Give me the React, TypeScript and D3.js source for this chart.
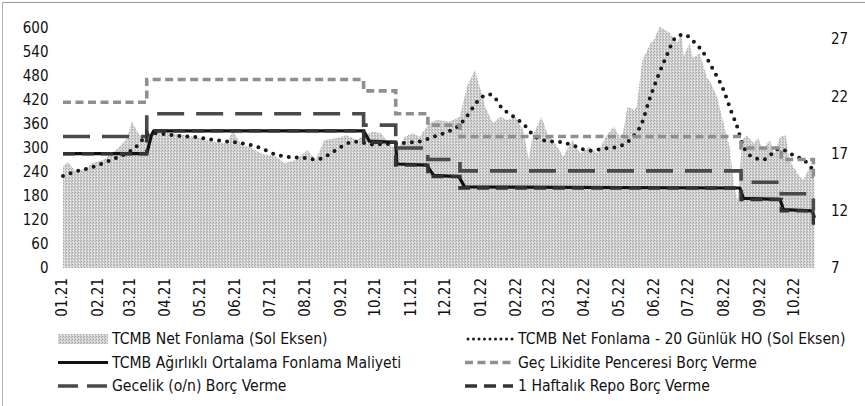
import React from "react";
import * as d3 from "d3";

// ---------- DATA ----------
// TCMB Net Fonlama (left axis, billion TL)
const netFunding: [string, number][] = [
  ["2021-01-04", 253], ["2021-01-08", 265], ["2021-01-15", 241], ["2021-01-25", 250],
  ["2021-01-29", 262], ["2021-02-08", 270], ["2021-02-16", 287], ["2021-02-22", 303],
  ["2021-03-01", 325], ["2021-03-05", 366], ["2021-03-09", 345], ["2021-03-12", 332],
  ["2021-03-17", 320], ["2021-03-23", 337], ["2021-03-29", 341], ["2021-04-09", 337],
  ["2021-04-21", 332], ["2021-05-03", 325], ["2021-05-14", 316], ["2021-05-27", 312],
  ["2021-06-01", 341], ["2021-06-09", 307], ["2021-06-16", 303], ["2021-06-25", 287],
  ["2021-07-09", 278], ["2021-07-16", 262], ["2021-07-26", 270], ["2021-08-05", 295],
  ["2021-08-12", 270], ["2021-08-20", 320], ["2021-08-31", 325], ["2021-09-08", 332],
  ["2021-09-17", 320], ["2021-09-24", 332], ["2021-10-01", 341], ["2021-10-08", 337],
  ["2021-10-15", 312], ["2021-10-22", 295], ["2021-10-29", 328], ["2021-11-05", 337],
  ["2021-11-11", 328], ["2021-11-19", 362], ["2021-11-26", 370], ["2021-12-07", 366],
  ["2021-12-16", 378], ["2021-12-22", 453], ["2021-12-29", 495], ["2022-01-03", 445],
  ["2022-01-07", 403], ["2022-01-11", 378], ["2022-01-14", 362], ["2022-01-20", 378],
  ["2022-01-26", 370], ["2022-02-02", 378], ["2022-02-09", 345], ["2022-02-14", 270],
  ["2022-02-17", 328], ["2022-02-25", 378], ["2022-03-02", 337], ["2022-03-11", 303],
  ["2022-03-16", 278], ["2022-03-24", 320], ["2022-03-31", 287], ["2022-04-08", 303],
  ["2022-04-15", 287], ["2022-04-22", 328], ["2022-04-29", 353], ["2022-05-06", 320],
  ["2022-05-11", 403], ["2022-05-17", 395], ["2022-05-19", 403], ["2022-05-24", 520],
  ["2022-05-27", 537], ["2022-05-31", 562], ["2022-06-03", 570], ["2022-06-08", 603],
  ["2022-06-13", 595], ["2022-06-17", 587], ["2022-06-23", 562], ["2022-06-27", 587],
  ["2022-06-29", 528], ["2022-07-04", 562], ["2022-07-07", 525], ["2022-07-13", 537],
  ["2022-07-19", 478], ["2022-07-22", 466], ["2022-07-28", 428], ["2022-08-02", 370],
  ["2022-08-08", 303], ["2022-08-12", 203], ["2022-08-15", 170], ["2022-08-19", 320],
  ["2022-08-23", 332], ["2022-08-29", 312], ["2022-09-02", 325], ["2022-09-06", 295],
  ["2022-09-12", 320], ["2022-09-16", 287], ["2022-09-21", 328], ["2022-09-26", 332],
  ["2022-09-29", 270], ["2022-10-06", 237], ["2022-10-11", 220], ["2022-10-17", 253],
  ["2022-10-21", 237],
];

// TCMB Net Fonlama - 20 Günlük HO (left axis)
const netFundingMA20: [string, number][] = [
  ["2021-01-04", 230], ["2021-01-15", 241], ["2021-01-27", 250], ["2021-02-08", 262],
  ["2021-02-19", 275], ["2021-03-03", 291], ["2021-03-12", 312], ["2021-03-17", 330],
  ["2021-03-26", 337], ["2021-04-07", 333], ["2021-04-16", 330], ["2021-04-30", 327],
  ["2021-05-12", 322], ["2021-05-24", 317], ["2021-06-01", 315], ["2021-06-14", 309],
  ["2021-06-25", 300], ["2021-07-07", 285], ["2021-07-19", 278], ["2021-08-02", 275],
  ["2021-08-13", 271], ["2021-08-24", 284], ["2021-09-03", 302], ["2021-09-15", 316],
  ["2021-09-21", 314], ["2021-10-01", 309], ["2021-10-15", 310], ["2021-10-29", 313],
  ["2021-11-10", 316], ["2021-11-22", 327], ["2021-12-03", 338], ["2021-12-15", 356],
  ["2021-12-24", 387], ["2021-12-30", 412], ["2022-01-10", 434], ["2022-01-14", 430],
  ["2022-01-21", 402], ["2022-02-01", 378], ["2022-02-11", 355], ["2022-02-18", 332],
  ["2022-03-01", 318], ["2022-03-15", 314], ["2022-03-28", 303], ["2022-04-07", 293],
  ["2022-04-19", 298], ["2022-05-02", 303], ["2022-05-13", 320], ["2022-05-24", 366],
  ["2022-05-30", 420], ["2022-06-06", 475], ["2022-06-14", 530], ["2022-06-22", 576],
  ["2022-06-29", 584], ["2022-07-07", 568], ["2022-07-15", 543], ["2022-07-25", 494],
  ["2022-08-03", 443], ["2022-08-10", 387], ["2022-08-15", 350], ["2022-08-19", 310],
  ["2022-08-24", 286], ["2022-08-30", 275], ["2022-09-06", 271], ["2022-09-12", 280],
  ["2022-09-16", 293], ["2022-09-21", 298], ["2022-09-26", 293], ["2022-09-30", 286],
  ["2022-10-06", 278], ["2022-10-12", 269], ["2022-10-17", 255], ["2022-10-21", 240],
];

// TCMB Ağırlıklı Ortalama Fonlama Maliyeti (right axis, %)
const avgFundingCost: [string, number][] = [
  ["2021-01-04", 17], ["2021-03-18", 17], ["2021-03-22", 18.6], ["2021-03-24", 19],
  ["2021-09-23", 19], ["2021-09-28", 18.1], ["2021-10-21", 18], ["2021-10-22", 16.1],
  ["2021-11-17", 16], ["2021-11-23", 15.1], ["2021-12-15", 15], ["2021-12-20", 14.1],
  ["2022-08-17", 14], ["2022-08-20", 13.1], ["2022-09-21", 13], ["2022-09-24", 12.1],
  ["2022-10-19", 12], ["2022-10-21", 11.4],
];

// Geç Likidite Penceresi Borç Verme (right axis, %) – step changes
const lateLiquidityLending: [string, number][] = [
  ["2021-01-04", 21.5], ["2021-03-18", 23.5], ["2021-09-23", 22.5], ["2021-10-21", 20.5],
  ["2021-11-18", 19.5], ["2021-12-16", 18.5], ["2022-08-18", 17.5], ["2022-09-22", 16.5],
  ["2022-10-20", 15], ["2022-10-21", 15],
];

// Gecelik (o/n) Borç Verme (right axis, %)
const overnightLending: [string, number][] = [
  ["2021-01-04", 18.5], ["2021-03-18", 20.5], ["2021-09-23", 19.5], ["2021-10-21", 17.5],
  ["2021-11-18", 16.5], ["2021-12-16", 15.5], ["2022-08-18", 14.5], ["2022-09-22", 13.5],
  ["2022-10-20", 12], ["2022-10-21", 12],
];

// 1 Haftalık Repo Borç Verme (right axis, %)
const oneWeekRepo: [string, number][] = [
  ["2021-01-04", 17], ["2021-03-18", 19], ["2021-09-23", 18], ["2021-10-21", 16],
  ["2021-11-18", 15], ["2021-12-16", 14], ["2022-08-18", 13], ["2022-09-22", 12],
  ["2022-10-20", 10.5], ["2022-10-21", 10.5],
];

const leftTicks = [0, 60, 120, 180, 240, 300, 360, 420, 480, 540, 600];
const rightTicks = [7, 12, 17, 22, 27];
const monthLabels = [
  "01.21", "02.21", "03.21", "04.21", "05.21", "06.21", "07.21", "08.21", "09.21", "10.21", "11.21",
  "12.21", "01.22", "02.22", "03.22", "04.22", "05.22", "06.22", "07.22", "08.22", "09.22", "10.22",
];
const legendLabels = [
  "TCMB Net Fonlama (Sol Eksen)",
  "TCMB Net Fonlama - 20 Günlük HO (Sol Eksen)",
  "TCMB Ağırlıklı Ortalama Fonlama Maliyeti",
  "Geç Likidite Penceresi Borç Verme",
  "Gecelik (o/n) Borç Verme",
  "1 Haftalık Repo Borç Verme",
];

// ---------- CHART ----------
const W = 865;
const H = 406;
const FONT = "'DejaVu Sans Condensed', 'Liberation Sans', Arial, sans-serif";
const parse = d3.timeParse("%Y-%m-%d");

type Pt = { d: Date; v: number };
const toPts = (arr: [string, number][]): Pt[] => arr.map(([s, v]) => ({ d: parse(s) as Date, v }));

export default function App() {
  const x = d3
    .scaleTime()
    .domain([parse("2021-01-04") as Date, parse("2022-10-21") as Date])
    .range([63, 814.5]);
  const yL = d3.scaleLinear().domain([0, 600]).range([268, 28]);
  const yR = d3.scaleLinear().domain([7, 28]).range([268, 28]);

  const area = d3
    .area<Pt>()
    .x((p) => x(p.d))
    .y0(yL(0))
    .y1((p) => yL(p.v));
  const maLine = d3
    .line<Pt>()
    .x((p) => x(p.d))
    .y((p) => yL(p.v))
    .curve(d3.curveMonotoneX);
  const rLine = d3
    .line<Pt>()
    .x((p) => x(p.d))
    .y((p) => yR(p.v));
  const stepLine = d3
    .line<Pt>()
    .x((p) => x(p.d))
    .y((p) => yR(p.v))
    .curve(d3.curveStepAfter);

  const styles = {
    ma: { stroke: "#1a1a1a", strokeWidth: 4, dash: "0 8", cap: "round" as const },
    avg: { stroke: "#111111", strokeWidth: 3.2, dash: undefined, cap: "butt" as const },
    llw: { stroke: "#8f8f8f", strokeWidth: 3.6, dash: "8 4.5", cap: "butt" as const },
    on: { stroke: "#4a4a4a", strokeWidth: 3.6, dash: "27 12", cap: "butt" as const },
    repo: { stroke: "#333333", strokeWidth: 3.4, dash: "12 7", cap: "butt" as const },
  };

  const legendRowsY = [339, 362.5, 386];
  const legendCols = [
    { x0: 58, x1: 108, tx: 112 },
    { x0: 465, x1: 513, tx: 518 },
  ];
  const legendItems = [
    { kind: "area" },
    { kind: "ma" },
    { kind: "avg" },
    { kind: "llw" },
    { kind: "on" },
    { kind: "repo" },
  ];

  return (
    <svg
      width={W}
      height={H}
      viewBox={`0 0 ${W} ${H}`}
      style={{ position: "absolute", left: 0, top: 0, background: "#fff" }}
      fontFamily={FONT}
    >
      <defs>
        <pattern id="stipple" width="3" height="3" patternUnits="userSpaceOnUse">
          <rect width="3" height="3" fill="#d3d3d3" />
          <rect x="0" y="0" width="1" height="1" fill="#a2a2a2" />
          <rect x="2" y="1" width="1" height="1" fill="#b6b6b6" />
          <rect x="1" y="2" width="1" height="1" fill="#f3f3f3" />
          <rect x="2" y="2" width="1" height="1" fill="#c0c0c0" />
        </pattern>
      </defs>
      <rect width={W} height={H} fill="#fff" />
      <line x1={2.5} y1={2.5} x2={W} y2={2.5} stroke="#9a9a9a" strokeWidth={1} />
      <line x1={2.5} y1={2.5} x2={2.5} y2={H} stroke="#b0b0b0" strokeWidth={1} />

      {/* area */}
      <path d={area(toPts(netFunding)) || ""} fill="url(#stipple)" />

      {/* lines */}
      <path
        d={maLine(toPts(netFundingMA20)) || ""}
        fill="none"
        stroke={styles.ma.stroke}
        strokeWidth={styles.ma.strokeWidth}
        strokeDasharray={styles.ma.dash}
        strokeLinecap="round"
      />
      <path
        d={rLine(toPts(avgFundingCost)) || ""}
        fill="none"
        stroke={styles.avg.stroke}
        strokeWidth={styles.avg.strokeWidth}
        strokeLinejoin="round"
      />
      <path
        d={stepLine(toPts(lateLiquidityLending)) || ""}
        fill="none"
        stroke={styles.llw.stroke}
        strokeWidth={styles.llw.strokeWidth}
        strokeDasharray={styles.llw.dash}
      />
      <path
        d={stepLine(toPts(overnightLending)) || ""}
        fill="none"
        stroke={styles.on.stroke}
        strokeWidth={styles.on.strokeWidth}
        strokeDasharray={styles.on.dash}
      />
      <path
        d={stepLine(toPts(oneWeekRepo)) || ""}
        fill="none"
        stroke={styles.repo.stroke}
        strokeWidth={styles.repo.strokeWidth}
        strokeDasharray={styles.repo.dash}
      />

      {/* left axis labels */}
      {leftTicks.map((t) => (
        <text key={"l" + t} x={48.5} y={yL(t)} textAnchor="end" dominantBaseline="central" fontSize={15} fill="#111">
          {t}
        </text>
      ))}
      {/* right axis labels */}
      {rightTicks.map((t) => (
        <text key={"r" + t} x={831} y={yR(t)} textAnchor="start" dominantBaseline="central" fontSize={15} fill="#111">
          {t}
        </text>
      ))}
      {/* x labels */}
      {monthLabels.map((lab) => {
        const [mm, yy] = lab.split(".");
        const px = x(parse(`20${yy}-${mm}-01`) as Date) + 2.5;
        return (
          <text
            key={lab}
            transform={`translate(${px},278) rotate(-90)`}
            textAnchor="end"
            dominantBaseline="central"
            fontSize={15}
            fill="#111"
          >
            {lab}
          </text>
        );
      })}

      {/* legend */}
      {legendItems.map((it, i) => {
        const col = legendCols[i % 2];
        const cy = legendRowsY[Math.floor(i / 2)];
        let sample: React.ReactNode;
        if (it.kind === "area") {
          sample = <rect x={col.x0} y={cy - 5} width={col.x1 - col.x0} height={10} fill="url(#stipple)" />;
        } else {
          const s = (styles as any)[it.kind];
          sample = (
            <line
              x1={col.x0 + (it.kind === "ma" ? 3 : 0)}
              x2={col.x1}
              y1={cy}
              y2={cy}
              stroke={s.stroke}
              strokeWidth={it.kind === "ma" ? 3 : s.strokeWidth}
              strokeDasharray={it.kind === "on" ? "20 9" : it.kind === "ma" ? "0 5.5" : s.dash}
              strokeLinecap={s.cap}
            />
          );
        }
        return (
          <g key={"lg" + i}>
            {sample}
            <text x={col.tx} y={cy} dominantBaseline="central" fontSize={15.6} fill="#111">
              {legendLabels[i]}
            </text>
          </g>
        );
      })}
    </svg>
  );
}
